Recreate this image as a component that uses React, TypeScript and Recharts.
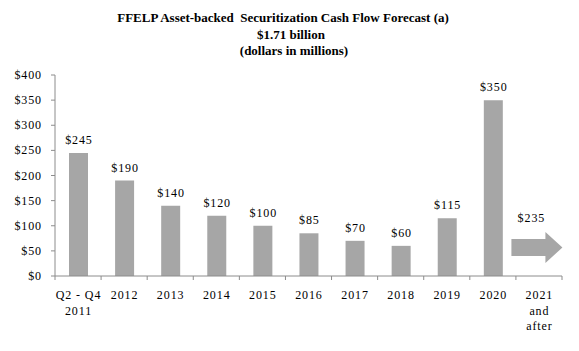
import React from "react";
import { BarChart, Bar, XAxis, YAxis, LabelList } from "recharts";

const categories = ["Q2 - Q4\n2011", "2012", "2013", "2014", "2015", "2016", "2017", "2018", "2019", "2020", "2021\nand\nafter"];
const cashFlow = [245, 190, 140, 120, 100, 85, 70, 60, 115, 350, null];
const afterValues = [null, null, null, null, null, null, null, null, null, null, 235];
const yTicks = [0, 50, 100, 150, 200, 250, 300, 350, 400];
const titleLines = ["FFELP Asset-backed  Securitization Cash Flow Forecast (a)", "$1.71 billion", "(dollars in millions)"];

const W = 579;
const H = 351;
const X_AXIS_H = 75;
const MARGIN = { top: 75, right: 17, bottom: 0, left: 0 };
const Y_AXIS_W = 55;
const PLOT_LEFT = MARGIN.left + Y_AXIS_W;
const PLOT_W = W - PLOT_LEFT - MARGIN.right;
const PLOT_BOTTOM = H - MARGIN.bottom - X_AXIS_H;
const BAND = PLOT_W / categories.length;

const FONT = "'Liberation Serif', 'Times New Roman', serif";
const BAR_COLOR = "#A6A6A6";
const AXIS_COLOR = "#8C8C8C";
const LS = 0.9;

const data = categories.map((c, i) => ({ name: c, value: cashFlow[i], after: afterValues[i] }));

const fmt = (v: any) => (v === null || v === undefined ? "" : `$${v}`);

const XTick = (props: any) => {
  const { x, payload, index } = props;
  const lines = String(payload.value).split("\n");
  const left = x - BAND / 2;
  return (
    <g>
      <line x1={left} x2={left} y1={PLOT_BOTTOM} y2={PLOT_BOTTOM + 4} stroke={AXIS_COLOR} />
      {index === categories.length - 1 && (
        <line x1={left + BAND} x2={left + BAND} y1={PLOT_BOTTOM} y2={PLOT_BOTTOM + 4} stroke={AXIS_COLOR} />
      )}
      <text x={x} y={PLOT_BOTTOM + 23} textAnchor="middle" fontFamily={FONT} fontSize={12} letterSpacing={LS} fill="#000">
        {lines.map((l, i) => (
          <tspan key={i} x={x + LS / 2} dy={i === 0 ? 0 : 15.5}>
            {l}
          </tspan>
        ))}
      </text>
    </g>
  );
};

const YTick = (props: any) => {
  const { x, y, payload } = props;
  return (
    <text x={x} y={y} dy={4} textAnchor="end" fontFamily={FONT} fontSize={12} letterSpacing={LS} fill="#000">
      {fmt(payload.value)}
    </text>
  );
};

const ValueLabel = (props: any) => {
  const { x, y, width, value } = props;
  if (value === null || value === undefined) return null;
  return (
    <text x={x + width / 2 + LS / 2} y={y - 9} textAnchor="middle" fontFamily={FONT} fontSize={12} letterSpacing={LS} fill="#000">
      {fmt(value)}
    </text>
  );
};

const ArrowShape = (props: any) => {
  const { x, y, width, height } = props;
  if (!height) return null;
  const base = y + height;
  const cx = x + width / 2;
  const l = cx - 28;
  const hx = cx + 6;
  const r = cx + 23;
  const pts = [
    [l, base - 37],
    [hx, base - 37],
    [hx, base - 44],
    [r, base - 28.5],
    [hx, base - 13],
    [hx, base - 20],
    [l, base - 20],
  ]
    .map((p) => p.join(","))
    .join(" ");
  return <polygon points={pts} fill={BAR_COLOR} />;
};

const ArrowLabel = (props: any) => {
  const { x, y, width, height, value } = props;
  if (value === null || value === undefined) return null;
  const base = y + height;
  return (
    <text x={x + width / 2 - 8} y={base - 54} textAnchor="middle" fontFamily={FONT} fontSize={12} letterSpacing={LS} fill="#000">
      {fmt(value)}
    </text>
  );
};

export default function App() {
  return (
    <div style={{ position: "absolute", left: 0, top: 0, width: W, height: H, background: "#fff" }}>
      <svg width={W} height={60} style={{ position: "absolute", left: 0, top: 0 }}>
        {titleLines.map((t, i) => (
          <text
            key={i}
            x={[283, 291, 294][i]}
            y={[22, 39, 55][i]}
            textAnchor="middle"
            fontFamily={FONT}
            fontWeight="bold"
            fontSize={13}
            fill="#000"
            style={{ whiteSpace: "pre" }}
          >
            {t}
          </text>
        ))}
      </svg>
      <BarChart width={W} height={H} data={data} margin={MARGIN} barSize={19}>
        <XAxis
          dataKey="name"
          interval={0}
          tickLine={false}
          axisLine={{ stroke: AXIS_COLOR }}
          tick={<XTick />}
          height={X_AXIS_H}
        />
        <YAxis
          domain={[0, 400]}
          ticks={yTicks}
          interval={0}
          width={Y_AXIS_W}
          tickSize={4}
          tickMargin={9}
          axisLine={{ stroke: AXIS_COLOR }}
          tickLine={{ stroke: AXIS_COLOR }}
          tick={<YTick />}
        />
        <Bar dataKey="value" stackId="s" fill={BAR_COLOR} isAnimationActive={false}>
          <LabelList dataKey="value" content={<ValueLabel />} />
        </Bar>
        <Bar dataKey="after" stackId="s" fill={BAR_COLOR} shape={<ArrowShape />} isAnimationActive={false}>
          <LabelList dataKey="after" content={<ArrowLabel />} />
        </Bar>
      </BarChart>
    </div>
  );
}
